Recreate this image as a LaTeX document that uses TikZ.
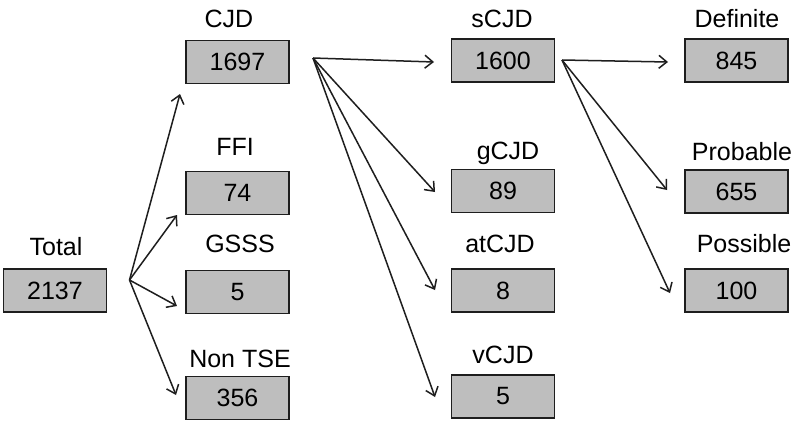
\documentclass[tikz,border=0pt]{standalone}
\usepackage{fontspec}
\setmainfont{Liberation Sans}
\usetikzlibrary{arrows.meta}
\definecolor{boxfill}{RGB}{190,190,190}
\definecolor{ink}{RGB}{30,30,30}
\tikzset{
  numbox/.style={draw=ink, line width=1.6pt, fill=boxfill, minimum width=103pt, minimum height=43pt, inner sep=0pt, font=\fontsize{25}{30}\selectfont, text=black},
  lbl/.style={anchor=base, inner sep=0pt, font=\fontsize{25}{30}\selectfont, text=black},
  conn/.style={draw=ink, line width=1.5pt, -{Straight Barb[length=8pt,width=13pt,line width=1.5pt]}}
}
\begin{document}
\begin{tikzpicture}[x=1pt,y=-1pt]
\useasboundingbox[fill=white] (0,0) rectangle (800,432);
% boxes
\node[numbox] (total) at (55,290.5) {2137};
\node[numbox] (cjd) at (237.5,62) {1697};
\node[numbox] (ffi) at (237.5,193) {74};
\node[numbox] (gsss) at (237.5,292) {5};
\node[numbox] (nontse) at (237.5,398) {356};
\node[numbox] (scjd) at (503,60.5) {1600};
\node[numbox] (gcjd) at (503,191) {89};
\node[numbox] (atcjd) at (503,290.5) {8};
\node[numbox] (vcjd) at (503,396.5) {5};
\node[numbox] (definite) at (736.5,60.5) {845};
\node[numbox] (probable) at (736.5,191.5) {655};
\node[numbox] (possible) at (736.5,290.5) {100};
% labels
\node[lbl] (ltotal) at (56,255) {Total};
\node[lbl] (lcjd) at (229,27) {CJD};
\node[lbl] (lffi) at (235,155) {FFI};
\node[lbl] (lgsss) at (240,252) {GSSS};
\node[lbl] (lnontse) at (240,367) {Non TSE};
\node[lbl] (lscjd) at (502,27) {sCJD};
\node[lbl] (lgcjd) at (508,159) {gCJD};
\node[lbl] (latcjd) at (500,252) {atCJD};
\node[lbl] (lvcjd) at (503,363) {vCJD};
\node[lbl] (ldefinite) at (737,27) {Definite};
\node[lbl] (lprobable) at (742,160) {Probable};
\node[lbl] (lpossible) at (744,252) {Possible};
% fork points and arrow ends
\coordinate (f1) at (129.5,280);
\coordinate (t-cjd) at (180,94);
\coordinate (t-ffi) at (177,215);
\coordinate (t-gsss) at (177,306);
\coordinate (t-nontse) at (176,395);
\coordinate (f2) at (313,58);
\coordinate (t-scjd) at (434,62);
\coordinate (t-gcjd) at (435,192);
\coordinate (t-atcjd) at (435,290);
\coordinate (t-vcjd) at (435,397);
\coordinate (f3) at (562,60);
\coordinate (t-definite) at (668,62);
\coordinate (t-probable) at (667,190);
\coordinate (t-possible) at (670,293);
% connectors
\foreach \t in {cjd,ffi,gsss,nontse} \draw[conn] (f1) -- (t-\t);
\foreach \t in {scjd,gcjd,atcjd,vcjd} \draw[conn] (f2) -- (t-\t);
\foreach \t in {definite,probable,possible} \draw[conn] (f3) -- (t-\t);
\end{tikzpicture}
\end{document}
